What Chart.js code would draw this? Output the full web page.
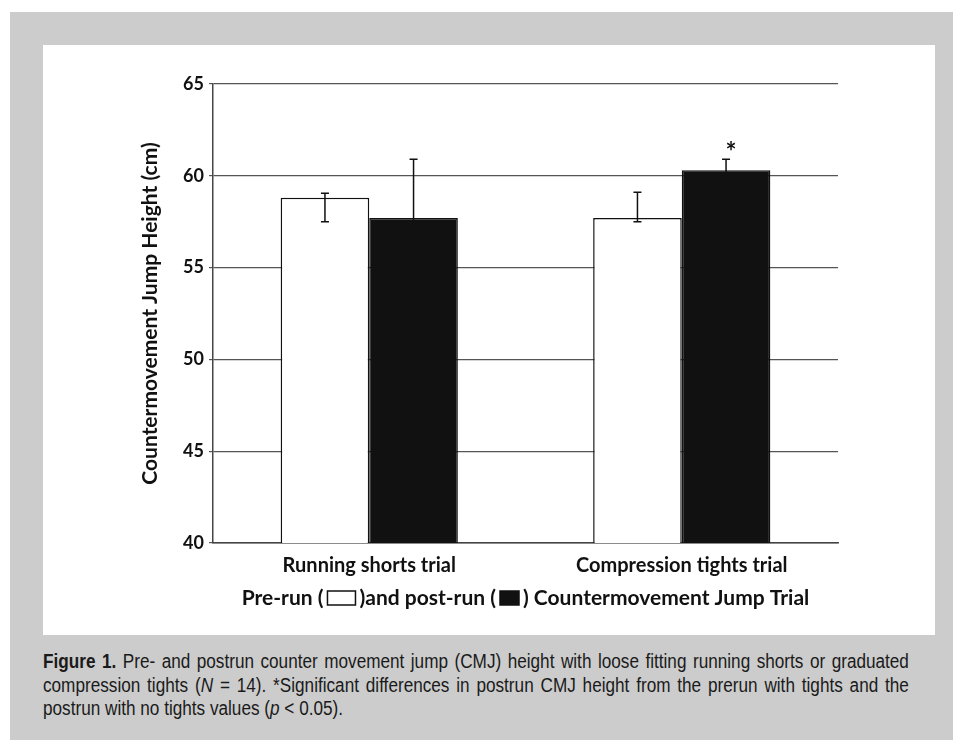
<!DOCTYPE html>
<html>
<head>
<meta charset="utf-8">
<script src="https://cdn.jsdelivr.net/npm/chart.js@4.4.1/dist/chart.umd.min.js"></script>
<style>
  body { margin: 0; background: #fff; }
  #frame { position: absolute; left: 10px; top: 12px; width: 943px; height: 728px; background: #cccccc; }
  #panel { position: absolute; left: 43px; top: 45px; width: 892px; height: 590px; background: #fff; }
  #caption { position: absolute; left: 43px; top: 650px; width: 984px;
    transform: scaleX(0.88); transform-origin: 0 0;
    font-family: "Liberation Sans", Arial, sans-serif;
    font-size: 19.5px; line-height: 23.5px; color: #1a1a1a; }
  #caption .j { text-align: justify; text-align-last: justify; }
</style>
</head>
<body>
<div id="frame"></div>
<div id="panel"><canvas id="myChart" width="892" height="590"></canvas></div>
<div id="caption">
  <div class="j"><b>Figure 1.</b> Pre- and postrun counter movement jump (CMJ) height with loose fitting running shorts or graduated</div>
  <div class="j">compression tights (<i>N</i>&nbsp;=&nbsp;14). *Significant differences in postrun CMJ height from the prerun with tights and the</div>
  <div>postrun with no tights values (<i>p</i> &lt; 0.05).</div>
</div>
<script>
const categories = ['Running shorts trial', 'Compression tights trial']
const preRun = [58.8, 57.7]
const postRun = [57.7, 60.3]
const preLow = [57.5, 57.5]
const preHigh = [59.05, 59.1]
const postLow = [57.2, 57.15]
const postHigh = [60.9, 60.9]
const significant = [false, true]

const font = 'Lato, "Open Sans", sans-serif'

// error bars + asterisk
const errorBars = {
    id: 'errorBars',
    afterDatasetsDraw(chart) {
        const y = chart.scales.y
        const ctx = chart.ctx
        const ranges = [[preLow, preHigh], [postLow, postHigh]]
        ctx.save()
        ctx.strokeStyle = '#111'
        ctx.lineWidth = 1.5
        ranges.forEach((r, di) => {
            chart.getDatasetMeta(di).data.forEach((bar, i) => {
                const top = y.getPixelForValue(r[1][i])
                const bot = y.getPixelForValue(r[0][i])
                ctx.beginPath()
                ctx.moveTo(bar.x, top); ctx.lineTo(bar.x, bot)
                ctx.moveTo(bar.x - 4, top); ctx.lineTo(bar.x + 4, top)
                ctx.moveTo(bar.x - 4, bot); ctx.lineTo(bar.x + 4, bot)
                ctx.stroke()
                if (di == 1 && significant[i]) {
                    ctx.fillStyle = '#111'
                    ctx.font = 'bold 26px ' + font
                    ctx.textAlign = 'center'
                    ctx.textBaseline = 'middle'
                    ctx.fillText('*', bar.x + 5, top - 7)
                }
            })
        })
        ctx.restore()
    }
}

// x axis title with the little legend boxes inside it
const xTitle = {
    id: 'xTitle',
    afterDraw(chart) {
        const ctx = chart.ctx
        const area = chart.chartArea
        const parts = ['Pre-run (', 'box0', ')and post-run (', 'box1', ') Countermovement Jump Trial']
        const boxW = [28, 19]
        const gap = 4
        ctx.save()
        ctx.font = 'bold 21px ' + font
        ctx.textBaseline = 'middle'
        ctx.textAlign = 'left'
        let w = 0
        parts.forEach(p => { w += p.startsWith('box') ? boxW[+p[3]] + 2 * gap : ctx.measureText(p).width })
        let x = (area.left + area.right) / 2 - w / 2
        const cy = area.bottom + 55
        parts.forEach(p => {
            if (p.startsWith('box')) {
                const k = +p[3]
                ctx.fillStyle = k ? '#111' : '#fff'
                ctx.strokeStyle = '#111'
                ctx.lineWidth = 1.5
                ctx.fillRect(x + gap, cy - 7, boxW[k], 14)
                ctx.strokeRect(x + gap, cy - 7, boxW[k], 14)
                x += boxW[k] + 2 * gap
            } else {
                ctx.fillStyle = '#111'
                ctx.fillText(p, x, cy)
                x += ctx.measureText(p).width
            }
        })
        ctx.restore()
    }
}

new Chart('myChart', {
    type: 'bar',
    data: {
        labels: categories,
        datasets: [{
            label: 'Pre-run',
            data: preRun,
            backgroundColor: '#fff',
            borderColor: '#111',
            borderWidth: 1.5,
        },
        {
            label: 'Post-run',
            data: postRun,
            backgroundColor: '#111',
            borderColor: '#111',
            borderWidth: 1.5,
        }],
    },
    options: {
        responsive: false,
        animation: false,
        categoryPercentage: 0.567,
        barPercentage: 1.0,
        layout: { padding: { left: 91, right: 97, top: 39, bottom: 0 } },
        plugins: { legend: { display: false }, tooltip: { enabled: false } },
        scales: {
            y: {
                min: 40,
                max: 65,
                ticks: { stepSize: 5, padding: 5, color: '#111', font: { family: font, size: 18, weight: 'bold' } },
                grid: { color: '#555', lineWidth: 1.2, tickLength: 4 },
                border: { display: true, color: '#444', width: 1.5 },
                title: { display: true, text: 'Countermovement Jump Height (cm)', color: '#111',
                    font: { family: font, size: 21, weight: 'bold' } },
                afterFit(s) { s.width = 79 },
            },
            x: {
                grid: { display: false },
                border: { display: true, color: '#444', width: 1.5 },
                ticks: { padding: 3, color: '#111', font: { family: font, size: 20, weight: 'bold' } },
                afterFit(s) { s.height = 92 },
            },
        }
    },
    plugins: [errorBars, xTitle]
});
</script>
</body>
</html>
